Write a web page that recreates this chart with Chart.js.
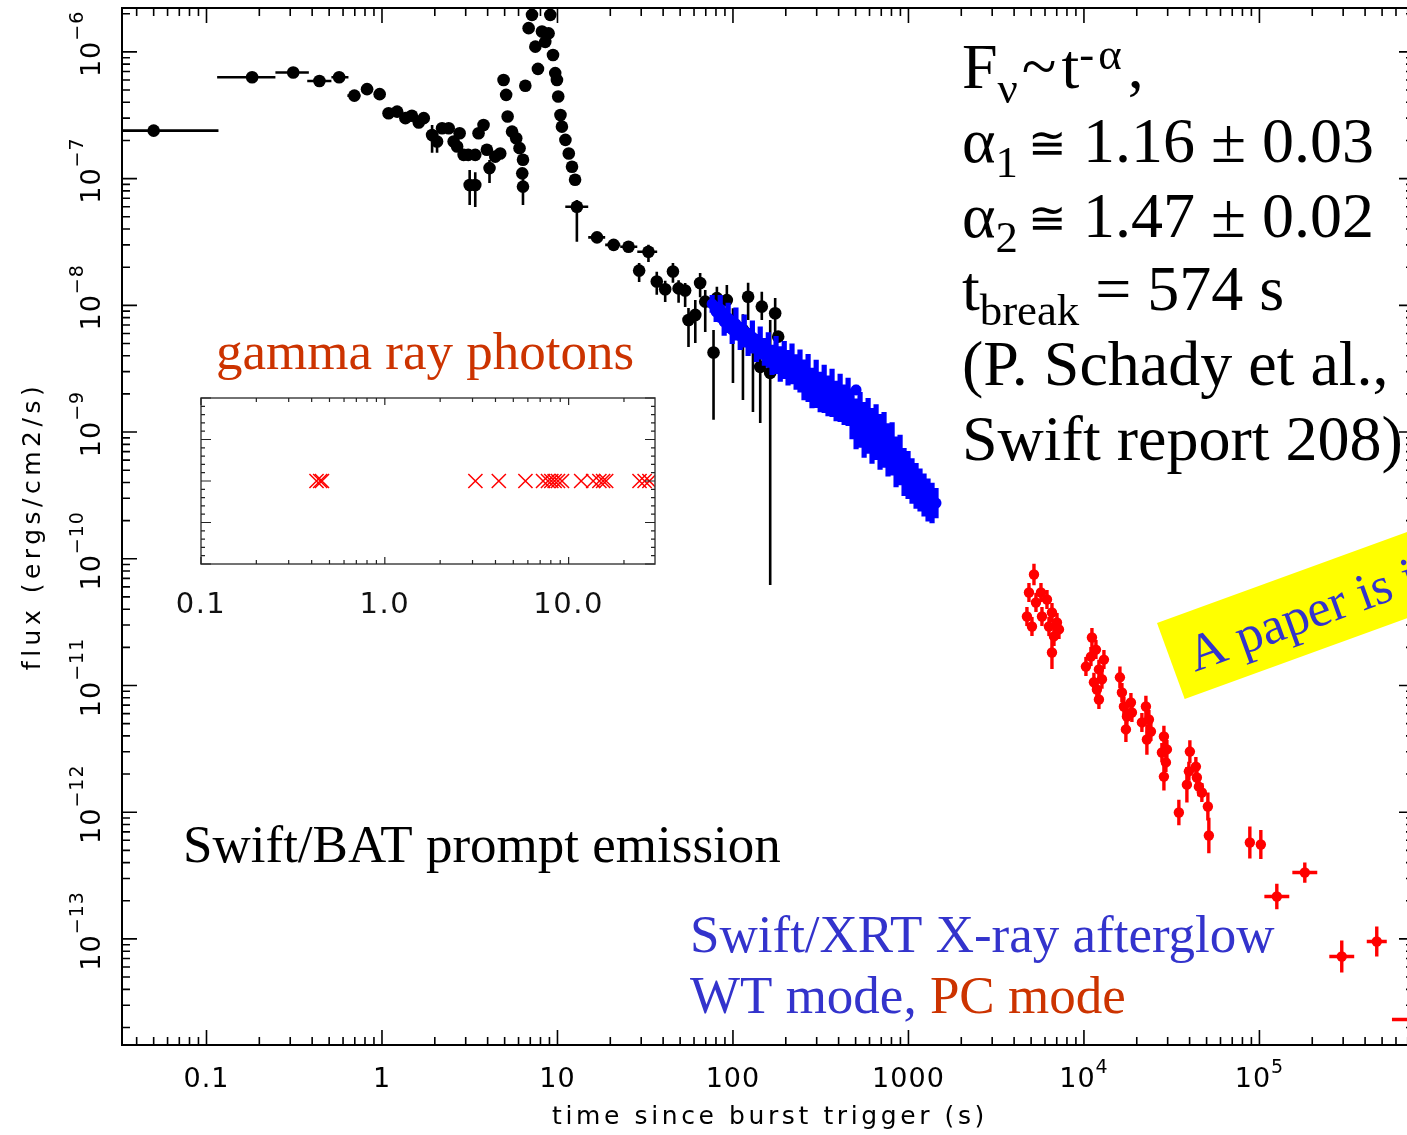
<!DOCTYPE html>
<html>
<head>
<meta charset="utf-8">
<script src="https://cdn.jsdelivr.net/npm/chart.js@4/dist/chart.umd.min.js"></script>
<style>
  html, body { margin: 0; padding: 0; background: #fff; overflow: hidden; }
  #wrap { position: relative; width: 1407px; height: 1135px; overflow: hidden; }
  #main { position: absolute; left: 0; top: 0; }
  #inset { position: absolute; left: 160px; top: 380px; }
</style>
</head>
<body>
<div id="wrap">
  <canvas id="main" width="1440" height="1135"></canvas>
  <canvas id="inset" width="520" height="250"></canvas>
</div>
<script>
/* Swift light curve: BAT prompt emission + XRT afterglow, with the BAT photon inset. */

/* Swift/BAT prompt emission: [time (s), flux, tLo, tHi, fLo, fHi]; null = bar hidden under marker */
const batPoints = [
  [0.05, 2.39e-7, 0.001, 0.117, null, null],
  [0.182, 6.31e-7, 0.115, 0.247, null, null],
  [0.312, 6.87e-7, 0.247, 0.383, null, null],
  [0.44, 5.90e-7, 0.375, 0.515, null, null],
  [0.57, 6.31e-7, 0.515, 0.644, null, null],
  [0.696, 4.52e-7, 0.635, 0.753, null, null],
  [0.822, 5.08e-7, 0.76, 0.89, null, null],
  [0.97, 4.64e-7, 0.9, 1.04, null, null],
  [1.09, 3.28e-7, null, null, null, null],
  [1.22, 3.38e-7, null, null, null, null],
  [1.36, 3.00e-7, null, null, null, null],
  [1.48, 3.13e-7, null, null, null, null],
  [1.62, 2.77e-7, null, null, null, null],
  [1.73, 3.00e-7, null, null, null, null],
  [1.93, 2.21e-7, null, null, 1.60e-7, 2.65e-7],
  [2.06, 1.96e-7, null, null, 1.60e-7, 2.30e-7],
  [2.20, 2.50e-7, null, null, null, null],
  [2.40, 2.50e-7, null, null, null, null],
  [2.56, 1.96e-7, null, null, null, null],
  [2.77, 2.28e-7, null, null, null, null],
  [2.68, 1.79e-7, null, null, null, null],
  [2.92, 1.54e-7, null, null, null, null],
  [3.16, 8.9e-8, null, null, 6.2e-8, 1.17e-7],
  [3.40, 8.9e-8, null, null, 5.98e-8, 1.12e-7],
  [3.10, 1.54e-7, null, null, null, null],
  [3.40, 1.54e-7, null, null, null, null],
  [3.55, 2.28e-7, null, null, null, null],
  [3.79, 2.65e-7, null, null, null, null],
  [3.96, 1.69e-7, null, null, null, null],
  [4.10, 1.21e-7, null, null, 9.25e-8, 1.40e-7],
  [4.42, 1.49e-7, null, null, null, null],
  [4.72, 1.58e-7, null, null, null, null],
  [4.93, 6.00e-7, null, null, null, null],
  [5.10, 4.58e-7, null, null, null, null],
  [5.20, 3.09e-7, null, null, null, null],
  [5.51, 2.35e-7, null, null, null, null],
  [5.82, 2.08e-7, null, null, null, null],
  [6.08, 1.74e-7, null, null, null, null],
  [6.36, 1.41e-7, null, null, null, null],
  [6.30, 1.10e-7, null, null, null, null],
  [6.36, 8.65e-8, null, null, 6.2e-8, 1.0e-7],
  [6.56, 5.40e-7, null, null, null, null],
  [7.16, 1.96e-6, null, null, null, null],
  [6.85, 1.54e-6, null, null, null, null],
  [7.48, 1.10e-6, null, null, null, null],
  [7.74, 7.34e-7, null, null, null, null],
  [8.16, 1.45e-6, null, null, null, null],
  [8.52, 1.20e-6, null, null, null, null],
  [9.10, 1.96e-6, null, null, null, null],
  [8.90, 1.40e-6, null, null, null, null],
  [9.43, 9.46e-7, null, null, null, null],
  [9.71, 6.80e-7, null, null, null, null],
  [9.93, 6.00e-7, null, null, null, null],
  [10.1, 4.44e-7, null, null, null, null],
  [10.4, 3.18e-7, null, null, null, null],
  [10.6, 2.57e-7, null, null, null, null],
  [11.1, 2.02e-7, null, null, null, null],
  [11.6, 1.58e-7, null, null, null, null],
  [12.1, 1.24e-7, null, null, null, null],
  [12.6, 9.8e-8, null, null, null, null],
  [12.9, 6.0e-8, 11.08, 14.97, 3.17e-8, 6.79e-8],
  [16.8, 3.44e-8, 14.97, 18.7, null, null],
  [20.9, 3.00e-8, 18.7, 22.8, null, null],
  [25.4, 2.90e-8, 22.8, 28.5, null, null],
  [33.0, 2.65e-8, 28.5, 37.0, 2.2e-8, 3.0e-8],
  [29.2, 1.88e-8, null, null, 1.53e-8, 2.16e-8],
  [36.8, 1.54e-8, null, null, 1.21e-8, 1.84e-8],
  [41.1, 1.34e-8, null, null, 1.06e-8, 1.56e-8],
  [45.5, 1.85e-8, null, null, 1.51e-8, 2.16e-8],
  [49.0, 1.36e-8, null, null, 1.05e-8, 1.58e-8],
  [53.4, 1.31e-8, null, null, 9.7e-9, 1.50e-8],
  [55.8, 7.67e-9, null, null, 4.7e-9, 9.54e-9],
  [61.0, 8.40e-9, null, null, 5.05e-9, 1.10e-8],
  [65.0, 1.50e-8, null, null, 1.16e-8, 1.80e-8],
  [69.5, 1.07e-8, null, null, 6.17e-9, 1.32e-8],
  [77.5, 4.24e-9, null, null, 1.25e-9, 6.39e-9],
  [81.0, 1.14e-8, null, null, 9.0e-9, 1.40e-8],
  [92.3, 1.10e-8, null, null, 6.39e-9, 1.45e-8],
  [100, 7.26e-9, null, null, 2.44e-9, 9.5e-9],
  [114, 6.39e-9, null, null, 1.79e-9, 8.5e-9],
  [122, 1.17e-8, null, null, 7.67e-9, 1.51e-8],
  [130, 4.70e-9, null, null, 1.44e-9, 6.5e-9],
  [143, 3.27e-9, null, null, 1.18e-9, 5.0e-9],
  [146, 9.77e-9, null, null, 7.67e-9, 1.28e-8],
  [163, 2.93e-9, null, null, 6.21e-11, 7.67e-9],
  [174, 8.67e-9, null, null, 5.63e-9, 1.14e-8],
  [181, 5.66e-9, null, null, null, null]
];

/* Swift/XRT WT mode (dense band): time (s), flux, vertical error (dex half-width) */
const wtTime = [76.1, 80.2, 84.6, 89.1, 93.9, 99.0, 104, 110, 116, 122, 129, 136, 143, 151, 159, 167,
  176, 186, 196, 206, 217, 229, 241, 254, 268, 282, 298, 314, 331, 348, 367, 387, 408, 430, 453, 477,
  503, 503, 530, 559, 589, 620, 654, 689, 726, 765, 807, 850, 896, 944, 995, 1048, 1105, 1164, 1227,
  1293, 1363, 1436];
const wtFlux = [1.026e-8, 8.87e-9, 9.37e-9, 7.40e-9, 7.96e-9, 6.39e-9, 7.13e-9, 5.73e-9, 6.28e-9,
  5.14e-9, 5.63e-9, 4.61e-9, 5.05e-9, 4.29e-9, 4.45e-9, 3.71e-9, 4.06e-9, 3.45e-9, 3.71e-9, 3.21e-9,
  3.45e-9, 2.98e-9, 3.03e-9, 2.58e-9, 2.67e-9, 2.23e-9, 2.40e-9, 2.07e-9, 2.19e-9, 1.93e-9, 2.04e-9,
  1.76e-9, 1.86e-9, 1.64e-9, 1.73e-9, 1.39e-9, 2.15e-9, 1.16e-9, 1.246e-9, 1.04e-9, 1.12e-9, 9.31e-10,
  1.0e-9, 8.35e-10, 8.66e-10, 7.22e-10, 7.36e-10, 5.81e-10, 6.02e-10, 4.84e-10, 4.58e-10, 4.11e-10,
  3.76e-10, 3.49e-10, 3.19e-10, 2.91e-10, 2.75e-10, 2.75e-10];
const wtErrDex = [0.07, 0.08, 0.11, 0.11, 0.12, 0.11, 0.13, 0.11, 0.13, 0.11, 0.13, 0.11, 0.13, 0.11,
  0.14, 0.12, 0.15, 0.14, 0.15, 0.14, 0.16, 0.14, 0.17, 0.16, 0.19, 0.16, 0.19, 0.16, 0.19, 0.16, 0.19,
  0.16, 0.19, 0.16, 0.19, 0.20, 0.04, 0.20, 0.22, 0.22, 0.22, 0.22, 0.22, 0.22, 0.22, 0.21, 0.21, 0.20,
  0.20, 0.19, 0.19, 0.18, 0.18, 0.17, 0.17, 0.17, 0.16, 0.12];

/* Swift/XRT PC mode: [time (s), flux, time err (dex), flux err (dex)] */
const pcPoints = [
  [5191, 7.52e-11, 0.025, 0.085], [4861, 5.42e-11, 0.025, 0.075], [4734, 3.50e-11, 0.025, 0.075],
  [5329, 4.52e-11, 0.025, 0.075], [5690, 5.42e-11, 0.025, 0.075], [5765, 3.50e-11, 0.025, 0.075],
  [6157, 4.77e-11, 0.025, 0.075], [6319, 2.92e-11, 0.025, 0.075], [6573, 3.77e-11, 0.025, 0.075],
  [7020, 3.14e-11, 0.025, 0.075], [6748, 2.44e-11, 0.025, 0.075], [6573, 1.82e-11, 0.025, 0.13],
  [7206, 2.77e-11, 0.025, 0.075], [5056, 2.92e-11, 0.025, 0.075],
  [11106, 2.39e-11, 0.025, 0.075], [10961, 1.69e-11, 0.025, 0.075], [10265, 1.41e-11, 0.025, 0.075],
  [11703, 1.92e-11, 0.025, 0.075], [12173, 1.34e-11, 0.025, 0.075], [12662, 1.12e-11, 0.025, 0.075],
  [11858, 9.30e-12, 0.025, 0.075], [12173, 7.75e-12, 0.025, 0.075], [12998, 1.60e-11, 0.025, 0.075],
  [11400, 1.06e-11, 0.025, 0.075],
  [16032, 1.16e-11, 0.025, 0.085], [16458, 8.81e-12, 0.025, 0.075], [16895, 6.83e-12, 0.025, 0.075],
  [17574, 5.69e-12, 0.025, 0.075], [18521, 7.34e-12, 0.025, 0.075], [17344, 4.50e-12, 0.025, 0.10],
  [18764, 6.12e-12, 0.025, 0.075],
  [22546, 6.83e-12, 0.025, 0.085], [21393, 5.11e-12, 0.025, 0.075], [23450, 5.39e-12, 0.025, 0.075],
  [24070, 4.33e-12, 0.025, 0.075], [22843, 3.75e-12, 0.025, 0.12],
  [28556, 3.96e-12, 0.025, 0.085], [27816, 2.96e-12, 0.025, 0.075], [29697, 3.13e-12, 0.025, 0.075],
  [29309, 2.47e-12, 0.025, 0.075], [28556, 1.91e-12, 0.025, 0.11],
  [40143, 3.01e-12, 0.025, 0.09], [39627, 2.10e-12, 0.025, 0.075], [38610, 1.65e-12, 0.025, 0.14],
  [44005, 1.88e-12, 0.025, 0.075], [45170, 1.59e-12, 0.025, 0.075], [46990, 1.43e-12, 0.025, 0.075],
  [43432, 2.29e-12, 0.025, 0.075],
  [34750, 9.95e-13, 0.01, 0.10], [50840, 1.11e-12, 0.01, 0.11], [51500, 6.55e-13, 0.01, 0.14],
  [88180, 5.77e-13, 0.01, 0.126], [101860, 5.56e-13, 0.01, 0.115],
  [125640, 2.16e-13, 0.071, 0.10], [181360, 3.34e-13, 0.071, 0.08],
  [294540, 7.26e-14, 0.071, 0.126], [466260, 9.54e-14, 0.057, 0.118],
  [740000, 2.31e-14, 0.114, 0.02]
];

/* BAT photon arrival times shown in the inset (s) */
const gammaTime = [0.425, 0.445, 0.455, 3.11, 4.17, 5.82, 7.26, 7.72, 8.05, 8.39, 8.75, 9.2,
  11.7, 13.6, 14.7, 15.4, 16.0, 24.3, 25.9, 27.5];
const gammaRow = 2;

/* axis ranges and tick labels */
const xRange = [0.033, 7.6e5];
const yRange = [1.455e-14, 2.22e-6];
const xTickVals = [0.1, 1, 10, 100, 1000, 1e4, 1e5];
const xTickText = [['0.1', ''], ['1', ''], ['10', ''], ['100', ''], ['1000', ''], ['10', '4'], ['10', '5']];
const yTickVals = [1e-6, 1e-7, 1e-8, 1e-9, 1e-10, 1e-11, 1e-12, 1e-13];
const yTickText = [['10', '\u22126'], ['10', '\u22127'], ['10', '\u22128'], ['10', '\u22129'],
  ['10', '\u221210'], ['10', '\u221211'], ['10', '\u221212'], ['10', '\u221213']];
const insetRange = [0.1, 29.5];
const insetTickVals = [0.1, 1, 10];
const insetTickText = ['0.1', '1.0', '10.0'];

const SANS = '"DejaVu Sans", "Liberation Sans", sans-serif';
const SERIF = '"Liberation Serif", "DejaVu Serif", "Times New Roman", serif';
const ORANGE = '#cc3300';
const TEXTBLUE = '#3333cc';

/* ---------- build chart data ---------- */
const batData = batPoints.map(p => ({ x: p[0], y: p[1] }));
const batBars = batPoints.map(p => ({ xl: p[2], xh: p[3], yl: p[4], yh: p[5] }));
const wtData = wtTime.map((t, i) => ({ x: t, y: wtFlux[i] }));
const wtBars = wtTime.map((t, i) => ({
  xl: null, xh: null,
  yl: wtFlux[i] / Math.pow(10, wtErrDex[i]), yh: wtFlux[i] * Math.pow(10, wtErrDex[i])
}));
const pcData = pcPoints.map(p => ({ x: p[0], y: p[1] }));
const pcBars = pcPoints.map(p => ({
  xl: p[0] / Math.pow(10, p[2]), xh: p[0] * Math.pow(10, p[2]),
  yl: p[1] / Math.pow(10, p[3]), yh: p[1] * Math.pow(10, p[3])
}));

/* ---------- helpers ---------- */
function drawRich(ctx, x, y, parts, size) {
  // parts: [text, kind]  kind: n | sub | sup | sym | gap (text = px)
  let cx = x;
  for (const [text, kind] of parts) {
    if (kind === 'gap') { cx += text; continue; }
    let s = size, dy = 0;
    if (kind === 'sub') { s = size * 0.7; dy = size * 0.23; }
    if (kind === 'sup') { s = size * 0.7; dy = -size * 0.3; }
    if (kind === 'sym') { s = size * 0.72; dy = -size * 0.04; }
    ctx.font = s + 'px ' + SERIF;
    ctx.fillText(text, cx, y + dy);
    cx += ctx.measureText(text).width;
  }
}

function logTicks(min, max) {
  const out = [];
  for (let k = Math.floor(Math.log10(min)) - 1; k <= Math.ceil(Math.log10(max)); k++) {
    for (let m = 1; m <= 9; m++) {
      const v = m * Math.pow(10, k);
      if (v >= min && v <= max) out.push([v, m === 1]);
    }
  }
  return out;
}

/* ---------- plugins ---------- */
const errorBars = {
  id: 'errorBars',
  beforeDatasetDraw(chart, args) {
    const ds = chart.data.datasets[args.index];
    if (!ds.bars) return;
    const ctx = chart.ctx, a = chart.chartArea;
    const xs = chart.scales.x, ys = chart.scales.y;
    ctx.save();
    ctx.beginPath();
    ctx.rect(a.left, a.top, a.right - a.left, a.bottom - a.top);
    ctx.clip();
    ctx.strokeStyle = ds.barColor;
    ctx.lineWidth = ds.barWidth;
    ctx.beginPath();
    ds.data.forEach((d, i) => {
      const b = ds.bars[i];
      const px = xs.getPixelForValue(d.x), py = ys.getPixelForValue(d.y);
      if (b.xl != null) {
        ctx.moveTo(xs.getPixelForValue(b.xl), py);
        ctx.lineTo(xs.getPixelForValue(b.xh), py);
      }
      if (b.yl != null) {
        ctx.moveTo(px, ys.getPixelForValue(b.yl));
        ctx.lineTo(px, ys.getPixelForValue(b.yh));
      }
    });
    ctx.stroke();
    ctx.restore();
  }
};

const mainFrame = {
  id: 'mainFrame',
  beforeDraw(chart) {
    const ctx = chart.ctx;
    ctx.save();
    ctx.fillStyle = '#fff';
    ctx.fillRect(0, 0, chart.width, chart.height);
    ctx.restore();
  },
  afterDraw(chart) {
    const ctx = chart.ctx, a = chart.chartArea;
    const xs = chart.scales.x, ys = chart.scales.y;
    ctx.save();

    // frame and ticks
    ctx.strokeStyle = '#000';
    ctx.lineWidth = 2;
    ctx.strokeRect(a.left, a.top, a.right - a.left, a.bottom - a.top);
    ctx.lineWidth = 1.6;
    ctx.beginPath();
    for (const [v, major] of logTicks(xRange[0], xRange[1])) {
      const x = xs.getPixelForValue(v), len = major ? 15 : 8;
      ctx.moveTo(x, a.bottom); ctx.lineTo(x, a.bottom - len);
      ctx.moveTo(x, a.top); ctx.lineTo(x, a.top + len);
    }
    for (const [v, major] of logTicks(yRange[0], yRange[1])) {
      const y = ys.getPixelForValue(v), len = major ? 15 : 8;
      ctx.moveTo(a.left, y); ctx.lineTo(a.left + len, y);
      ctx.moveTo(a.right, y); ctx.lineTo(a.right - len, y);
    }
    ctx.stroke();

    // x tick labels
    ctx.fillStyle = '#000';
    ctx.letterSpacing = '1px';
    ctx.textBaseline = 'alphabetic';
    ctx.textAlign = 'left';
    xTickVals.forEach((v, i) => {
      const [base, exp] = xTickText[i];
      ctx.font = '27px ' + SANS;
      const wb = ctx.measureText(base).width;
      ctx.font = '19px ' + SANS;
      const we = exp ? ctx.measureText(exp).width : 0;
      const x0 = xs.getPixelForValue(v) - (wb + we) / 2;
      ctx.font = '27px ' + SANS;
      ctx.fillText(base, x0, 1087);
      if (exp) { ctx.font = '19px ' + SANS; ctx.fillText(exp, x0 + wb, 1073); }
    });

    // y tick labels (rotated)
    yTickVals.forEach((v, i) => {
      const [base, exp] = yTickText[i];
      const y = ys.getPixelForValue(v);
      ctx.save();
      ctx.translate(100, y);
      ctx.rotate(-Math.PI / 2);
      ctx.font = '27px ' + SANS;
      const wb = ctx.measureText(base).width;
      ctx.font = '19px ' + SANS;
      const we = ctx.measureText(exp).width;
      const start = 8 - (wb + we) / 2;
      ctx.font = '27px ' + SANS;
      ctx.fillText(base, start, 0);
      ctx.font = '19px ' + SANS;
      ctx.fillText(exp, start + wb, -17);
      ctx.restore();
    });

    // axis titles
    ctx.font = '25px ' + SANS;
    ctx.letterSpacing = '3.6px';
    ctx.textAlign = 'center';
    ctx.fillText('time since burst trigger (s)', 770, 1124);
    ctx.save();
    ctx.translate(40, 526);
    ctx.rotate(-Math.PI / 2);
    ctx.letterSpacing = '4.5px';
    ctx.fillText('flux (ergs/cm2/s)', 0, 0);
    ctx.restore();
    ctx.letterSpacing = '0px';

    // annotations
    ctx.textAlign = 'left';
    ctx.fillStyle = '#000';
    const L = 962, fs = 64;
    drawRich(ctx, L, 88, [['F', 'n'], ['\u03bd', 'sub'], [4, 'gap'], ['~', 'n'], [5, 'gap'], ['t', 'n'],
      ['-', 'sup'], [4, 'gap'], ['\u03b1', 'sup'], [6, 'gap'], [',', 'n']], fs);
    drawRich(ctx, L, 162, [['\u03b1', 'n'], ['1', 'sub'], [10, 'gap'], ['\u2245', 'sym'], [' 1.16 \u00b1 0.03', 'n']], fs);
    drawRich(ctx, L, 237, [['\u03b1', 'n'], ['2', 'sub'], [10, 'gap'], ['\u2245', 'sym'], [' 1.47 \u00b1 0.02', 'n']], fs);
    drawRich(ctx, L, 310, [['t', 'n'], ['break', 'sub'], [' = 574 s', 'n']], fs);
    drawRich(ctx, L, 385, [['(P. Schady et al.,', 'n']], fs);
    drawRich(ctx, L, 460, [['Swift report 208)', 'n']], fs);

    ctx.font = '53px ' + SERIF;
    ctx.fillStyle = ORANGE;
    ctx.fillText('gamma ray photons', 216, 369);
    ctx.fillStyle = '#000';
    ctx.font = '53px ' + SERIF;
    ctx.fillText('Swift/BAT prompt emission', 183, 862);
    ctx.font = '53px ' + SERIF;
    ctx.fillStyle = TEXTBLUE;
    ctx.fillText('Swift/XRT X-ray afterglow', 690, 952);
    const wt = 'WT mode, ';
    ctx.fillText(wt, 690, 1013);
    ctx.fillStyle = ORANGE;
    ctx.fillText('PC mode', 690 + ctx.measureText(wt).width, 1013);

    // yellow note
    ctx.save();
    ctx.translate(1157, 623);
    ctx.rotate(-20 * Math.PI / 180);
    ctx.fillStyle = '#ffff00';
    ctx.fillRect(0, 0, 440, 81);
    ctx.fillStyle = TEXTBLUE;
    ctx.font = '52px ' + SERIF;
    ctx.fillText('A paper is in preparation', 19, 59);
    ctx.restore();

    ctx.restore();
  }
};

const insetFrame = {
  id: 'insetFrame',
  afterDraw(chart) {
    const ctx = chart.ctx, a = chart.chartArea;
    const xs = chart.scales.x, ys = chart.scales.y;
    ctx.save();
    ctx.strokeStyle = '#444';
    ctx.lineWidth = 1.5;
    ctx.strokeRect(a.left, a.top, a.right - a.left, a.bottom - a.top);
    ctx.strokeStyle = '#222';
    ctx.lineWidth = 1.2;
    ctx.beginPath();
    for (const [v, major] of logTicks(insetRange[0], insetRange[1])) {
      const x = xs.getPixelForValue(v), len = major ? 7 : 4;
      ctx.moveTo(x, a.bottom); ctx.lineTo(x, a.bottom - len);
      ctx.moveTo(x, a.top); ctx.lineTo(x, a.top + len);
    }
    for (let j = 0; j <= 20; j++) {
      const y = ys.getPixelForValue(j * 0.2), len = j % 5 === 0 ? 10 : 4;
      ctx.moveTo(a.left, y); ctx.lineTo(a.left + len, y);
      ctx.moveTo(a.right, y); ctx.lineTo(a.right - len, y);
    }
    ctx.stroke();
    ctx.fillStyle = '#111';
    ctx.font = '29px ' + SANS;
    ctx.letterSpacing = '1.5px';
    ctx.textAlign = 'center';
    ctx.textBaseline = 'alphabetic';
    insetTickVals.forEach((v, i) => {
      ctx.fillText(insetTickText[i], xs.getPixelForValue(v), 233);
    });
    ctx.restore();
  }
};

Chart.defaults.animation = false;

new Chart(document.getElementById('main'), {
  type: 'scatter',
  data: {
    datasets: [
      { label: 'XRT WT mode', data: wtData, bars: wtBars, barColor: '#0000ff', barWidth: 5.2,
        pointRadius: 5.5, pointBackgroundColor: '#0000ff', pointBorderColor: '#0000ff', pointBorderWidth: 0, order: 1 },
      { label: 'BAT', data: batData, bars: batBars, barColor: '#000', barWidth: 2.6,
        pointRadius: 6.3, pointBackgroundColor: '#000', pointBorderColor: '#000', pointBorderWidth: 0, order: 2 },
      { label: 'XRT PC mode', data: pcData, bars: pcBars, barColor: '#ff0000', barWidth: 3.4,
        pointRadius: 5.2, pointBackgroundColor: '#ff0000', pointBorderColor: '#ff0000', pointBorderWidth: 0, order: 3 }
    ]
  },
  options: {
    responsive: false,
    devicePixelRatio: 1,
    events: [],
    layout: { padding: { left: 122, top: 8, right: 1440 - 1414, bottom: 1135 - 1045 } },
    plugins: { legend: { display: false }, tooltip: { enabled: false } },
    scales: {
      x: { type: 'logarithmic', min: xRange[0], max: xRange[1], display: false },
      y: { type: 'logarithmic', min: yRange[0], max: yRange[1], display: false }
    }
  },
  plugins: [mainFrame, errorBars]
});

new Chart(document.getElementById('inset'), {
  type: 'scatter',
  data: {
    datasets: [{
      label: 'photons',
      data: gammaTime.map(t => ({ x: t, y: gammaRow })),
      pointStyle: 'crossRot', pointRadius: 10, pointBorderColor: '#ff0000', pointBorderWidth: 1.5,
      pointBackgroundColor: 'rgba(0,0,0,0)'
    }]
  },
  options: {
    responsive: false,
    devicePixelRatio: 1,
    events: [],
    layout: { padding: { left: 41, top: 18, right: 520 - 495, bottom: 250 - 184 } },
    plugins: { legend: { display: false }, tooltip: { enabled: false } },
    scales: {
      x: { type: 'logarithmic', min: insetRange[0], max: insetRange[1], display: false },
      y: { type: 'linear', min: 0, max: 4, display: false }
    }
  },
  plugins: [insetFrame]
});
</script>
</body>
</html>
